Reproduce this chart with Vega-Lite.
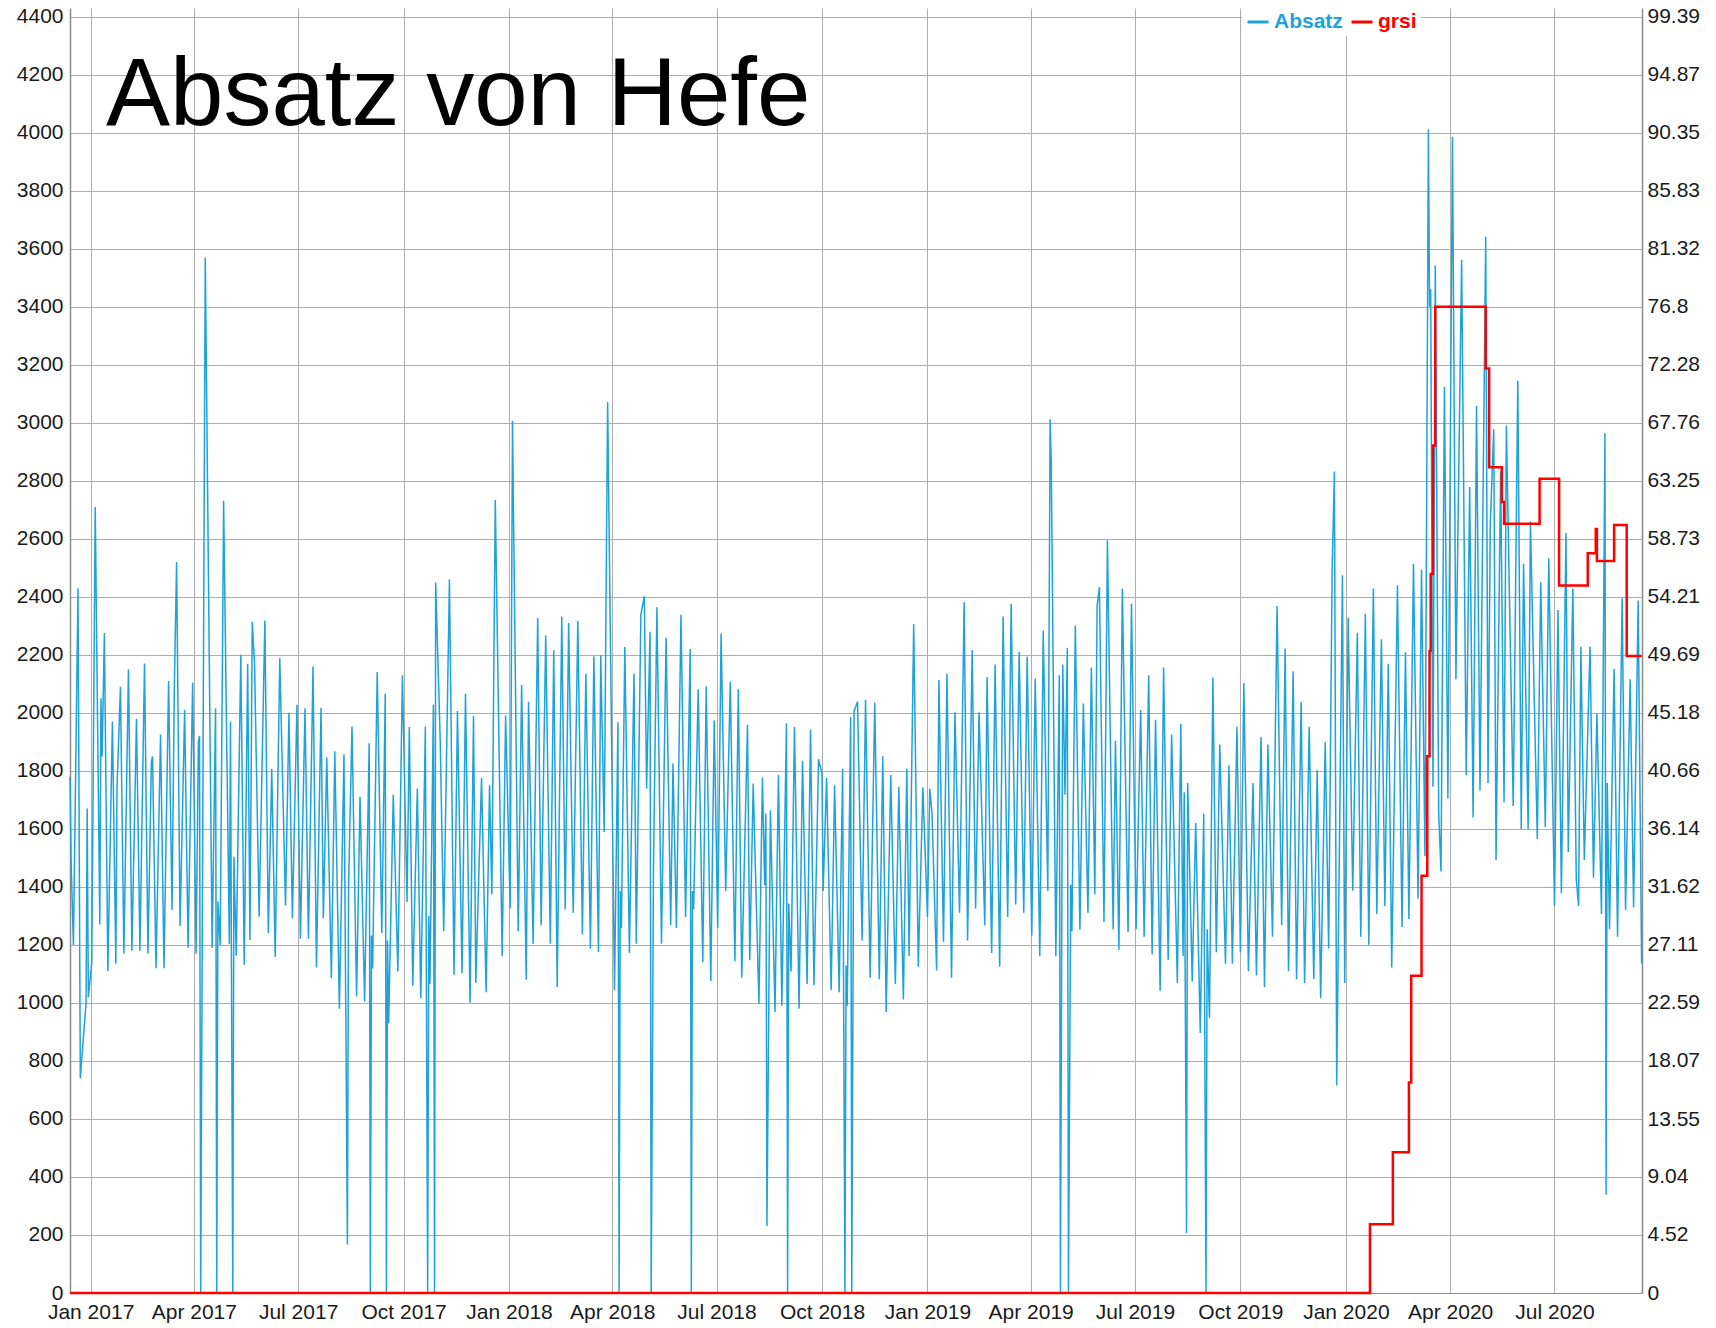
{
"$schema": "https://vega.github.io/schema/vega-lite/v6.json",
"width": 1572, "height": 1285,
"autosize": {"type": "none"},
"padding": {"left": 70, "top": 8, "right": 74, "bottom": 35},
"background": "white",
"title": {"text": "Absatz von Hefe", "font": "Liberation Sans", "fontSize": 96, "fontWeight": "normal", "color": "#000000", "anchor": "start", "frame": "group", "orient": "top", "offset": 0, "dx": 36, "dy": 215, "baseline": "alphabetic"},
"config": {"view": {"stroke": null}},
"datasets": {
"absatz": [
{"d":"2016-12-14","v":1780},{"d":"2016-12-15","v":1480},{"d":"2016-12-17","v":1200},{"d":"2016-12-21","v":2430},{"d":"2016-12-23","v":740},{"d":"2016-12-28","v":1000},{"d":"2016-12-29","v":1670},{"d":"2016-12-30","v":1020},
{"d":"2017-01-02","v":1140},{"d":"2017-01-05","v":2710},{"d":"2017-01-09","v":1270},{"d":"2017-01-10","v":2050},{"d":"2017-01-11","v":1850},{"d":"2017-01-13","v":2275},{"d":"2017-01-16","v":1110},{"d":"2017-01-20","v":1970},{"d":"2017-01-23","v":1135},{"d":"2017-01-24","v":1740},{"d":"2017-01-27","v":2090},{"d":"2017-01-30","v":1170},
{"d":"2017-02-03","v":2150},{"d":"2017-02-06","v":1180},{"d":"2017-02-10","v":1980},{"d":"2017-02-13","v":1180},{"d":"2017-02-17","v":2170},{"d":"2017-02-20","v":1170},{"d":"2017-02-23","v":1830},{"d":"2017-02-24","v":1850},{"d":"2017-02-27","v":1120},
{"d":"2017-03-03","v":1925},{"d":"2017-03-06","v":1120},{"d":"2017-03-10","v":2110},{"d":"2017-03-13","v":1320},{"d":"2017-03-15","v":2085},{"d":"2017-03-17","v":2520},{"d":"2017-03-20","v":1265},{"d":"2017-03-24","v":2010},{"d":"2017-03-27","v":1190},{"d":"2017-03-31","v":2105},
{"d":"2017-04-03","v":1170},{"d":"2017-04-05","v":1900},{"d":"2017-04-06","v":1920},{"d":"2017-04-07","v":0},{"d":"2017-04-11","v":3570},{"d":"2017-04-17","v":1190},{"d":"2017-04-20","v":2016},{"d":"2017-04-21","v":0},{"d":"2017-04-22","v":1350},{"d":"2017-04-24","v":1200},{"d":"2017-04-26","v":2190},{"d":"2017-04-27","v":2731},
{"d":"2017-05-02","v":1203},{"d":"2017-05-03","v":1969},{"d":"2017-05-05","v":0},{"d":"2017-05-06","v":1504},{"d":"2017-05-08","v":1163},{"d":"2017-05-12","v":2200},{"d":"2017-05-15","v":1132},{"d":"2017-05-18","v":2169},{"d":"2017-05-20","v":1217},{"d":"2017-05-22","v":2313},{"d":"2017-05-24","v":2169},{"d":"2017-05-28","v":1297},
{"d":"2017-06-02","v":2318},{"d":"2017-06-05","v":1240},{"d":"2017-06-08","v":1806},{"d":"2017-06-11","v":1158},{"d":"2017-06-15","v":2188},{"d":"2017-06-20","v":1335},{"d":"2017-06-23","v":2000},{"d":"2017-06-26","v":1292},{"d":"2017-06-30","v":2028},
{"d":"2017-07-03","v":1221},{"d":"2017-07-07","v":2016},{"d":"2017-07-10","v":1221},{"d":"2017-07-14","v":2160},{"d":"2017-07-17","v":1122},{"d":"2017-07-21","v":2018},{"d":"2017-07-23","v":1292},{"d":"2017-07-26","v":1846},{"d":"2017-07-30","v":1085},
{"d":"2017-08-02","v":1868},{"d":"2017-08-06","v":980},{"d":"2017-08-10","v":1857},{"d":"2017-08-13","v":167},{"d":"2017-08-14","v":1400},{"d":"2017-08-17","v":1953},{"d":"2017-08-21","v":1022},{"d":"2017-08-24","v":1711},{"d":"2017-08-28","v":1005},
{"d":"2017-09-01","v":1895},{"d":"2017-09-02","v":0},{"d":"2017-09-03","v":1232},{"d":"2017-09-04","v":1119},{"d":"2017-09-08","v":2141},{"d":"2017-09-12","v":1241},{"d":"2017-09-15","v":2066},{"d":"2017-09-16","v":0},{"d":"2017-09-17","v":1215},{"d":"2017-09-18","v":930},{"d":"2017-09-22","v":1718},{"d":"2017-09-26","v":1108},{"d":"2017-09-30","v":2130},
{"d":"2017-10-04","v":1348},{"d":"2017-10-06","v":1951},{"d":"2017-10-09","v":1059},{"d":"2017-10-13","v":1739},{"d":"2017-10-16","v":1016},{"d":"2017-10-20","v":1953},{"d":"2017-10-22","v":0},{"d":"2017-10-23","v":1300},{"d":"2017-10-24","v":1065},{"d":"2017-10-27","v":2028},{"d":"2017-10-28","v":0},{"d":"2017-10-29","v":2449},
{"d":"2017-11-02","v":1900},{"d":"2017-11-05","v":1247},{"d":"2017-11-10","v":2460},{"d":"2017-11-14","v":1097},{"d":"2017-11-17","v":2006},{"d":"2017-11-21","v":1102},{"d":"2017-11-24","v":2066},{"d":"2017-11-28","v":1001},
{"d":"2017-12-01","v":1989},{"d":"2017-12-03","v":1070},{"d":"2017-12-08","v":1775},{"d":"2017-12-12","v":1037},{"d":"2017-12-15","v":1750},{"d":"2017-12-17","v":1375},{"d":"2017-12-20","v":2734},{"d":"2017-12-26","v":1161},{"d":"2017-12-29","v":1991},
{"d":"2018-01-02","v":1326},{"d":"2018-01-04","v":3007},{"d":"2018-01-09","v":1247},{"d":"2018-01-12","v":2096},{"d":"2018-01-16","v":1080},{"d":"2018-01-18","v":2038},{"d":"2018-01-22","v":1204},{"d":"2018-01-26","v":2327},{"d":"2018-01-29","v":1268},
{"d":"2018-02-02","v":2267},{"d":"2018-02-06","v":1204},{"d":"2018-02-09","v":2216},{"d":"2018-02-12","v":1055},{"d":"2018-02-16","v":2332},{"d":"2018-02-19","v":1322},{"d":"2018-02-22","v":2310},{"d":"2018-02-26","v":1311},
{"d":"2018-03-02","v":2317},{"d":"2018-03-06","v":1236},{"d":"2018-03-09","v":2135},{"d":"2018-03-13","v":1187},{"d":"2018-03-16","v":2195},{"d":"2018-03-20","v":1176},{"d":"2018-03-22","v":2199},{"d":"2018-03-25","v":1589},{"d":"2018-03-28","v":3072},
{"d":"2018-04-03","v":1044},{"d":"2018-04-06","v":1968},{"d":"2018-04-07","v":0},{"d":"2018-04-08","v":1386},{"d":"2018-04-09","v":1258},{"d":"2018-04-12","v":2227},{"d":"2018-04-16","v":1172},{"d":"2018-04-20","v":2135},{"d":"2018-04-22","v":1204},{"d":"2018-04-26","v":2338},{"d":"2018-04-29","v":2402},
{"d":"2018-05-01","v":1739},{"d":"2018-05-04","v":2280},{"d":"2018-05-05","v":0},{"d":"2018-05-07","v":1472},{"d":"2018-05-10","v":2364},{"d":"2018-05-14","v":1204},{"d":"2018-05-18","v":2259},{"d":"2018-05-22","v":1268},{"d":"2018-05-24","v":1825},{"d":"2018-05-27","v":1258},{"d":"2018-05-31","v":2338},
{"d":"2018-06-04","v":1296},{"d":"2018-06-08","v":2220},{"d":"2018-06-09","v":0},{"d":"2018-06-10","v":1386},{"d":"2018-06-11","v":1322},{"d":"2018-06-15","v":2081},{"d":"2018-06-19","v":1140},{"d":"2018-06-22","v":2092},{"d":"2018-06-26","v":1076},{"d":"2018-06-29","v":1974},
{"d":"2018-07-02","v":1258},{"d":"2018-07-05","v":2274},{"d":"2018-07-09","v":1386},{"d":"2018-07-13","v":2107},{"d":"2018-07-17","v":1144},{"d":"2018-07-20","v":2081},{"d":"2018-07-23","v":1087},{"d":"2018-07-28","v":1959},{"d":"2018-07-30","v":1147},
{"d":"2018-08-02","v":1756},{"d":"2018-08-07","v":997},{"d":"2018-08-10","v":1777},{"d":"2018-08-12","v":1407},{"d":"2018-08-13","v":1653},{"d":"2018-08-14","v":231},{"d":"2018-08-17","v":1664},{"d":"2018-08-21","v":969},{"d":"2018-08-24","v":1786},{"d":"2018-08-27","v":990},{"d":"2018-08-31","v":1964},
{"d":"2018-09-01","v":0},{"d":"2018-09-02","v":1343},{"d":"2018-09-04","v":1108},{"d":"2018-09-07","v":1951},{"d":"2018-09-11","v":980},{"d":"2018-09-14","v":1835},{"d":"2018-09-18","v":1065},{"d":"2018-09-21","v":1942},{"d":"2018-09-24","v":1061},{"d":"2018-09-28","v":1840},
{"d":"2018-10-01","v":1792},{"d":"2018-10-02","v":1386},{"d":"2018-10-05","v":1775},{"d":"2018-10-09","v":1044},{"d":"2018-10-12","v":1750},{"d":"2018-10-16","v":1037},{"d":"2018-10-19","v":1807},{"d":"2018-10-21","v":0},{"d":"2018-10-22","v":1129},{"d":"2018-10-23","v":990},{"d":"2018-10-26","v":1985},{"d":"2018-10-27","v":0},{"d":"2018-10-29","v":2006},
{"d":"2018-11-01","v":2038},{"d":"2018-11-05","v":1215},{"d":"2018-11-08","v":2045},{"d":"2018-11-12","v":1087},{"d":"2018-11-16","v":2036},{"d":"2018-11-20","v":1082},{"d":"2018-11-23","v":1850},{"d":"2018-11-26","v":969},{"d":"2018-11-30","v":1786},
{"d":"2018-12-04","v":1065},{"d":"2018-12-07","v":1745},{"d":"2018-12-11","v":1012},{"d":"2018-12-14","v":1807},{"d":"2018-12-16","v":1161},{"d":"2018-12-20","v":2306},{"d":"2018-12-24","v":1125},{"d":"2018-12-28","v":1743},
{"d":"2019-01-01","v":1296},{"d":"2019-01-03","v":1739},{"d":"2019-01-05","v":1653},{"d":"2019-01-09","v":1112},{"d":"2019-01-11","v":2113},{"d":"2019-01-15","v":1211},{"d":"2019-01-18","v":2135},{"d":"2019-01-22","v":1087},{"d":"2019-01-25","v":2002},{"d":"2019-01-29","v":1311},
{"d":"2019-02-02","v":2381},{"d":"2019-02-05","v":1215},{"d":"2019-02-09","v":2216},{"d":"2019-02-12","v":1326},{"d":"2019-02-15","v":2002},{"d":"2019-02-20","v":1268},{"d":"2019-02-22","v":2124},{"d":"2019-02-26","v":1172},
{"d":"2019-03-01","v":2167},{"d":"2019-03-05","v":1125},{"d":"2019-03-08","v":2332},{"d":"2019-03-12","v":1296},{"d":"2019-03-15","v":2376},{"d":"2019-03-19","v":1339},{"d":"2019-03-22","v":2210},{"d":"2019-03-26","v":1311},{"d":"2019-03-29","v":2193},
{"d":"2019-04-02","v":1232},{"d":"2019-04-05","v":2118},{"d":"2019-04-09","v":1161},{"d":"2019-04-12","v":2284},{"d":"2019-04-16","v":1386},{"d":"2019-04-18","v":3012},{"d":"2019-04-19","v":2862},{"d":"2019-04-23","v":1161},{"d":"2019-04-26","v":2130},{"d":"2019-04-27","v":0},{"d":"2019-04-29","v":2167},
{"d":"2019-05-01","v":1718},{"d":"2019-05-03","v":2224},{"d":"2019-05-04","v":0},{"d":"2019-05-06","v":1407},{"d":"2019-05-07","v":1247},{"d":"2019-05-10","v":2301},{"d":"2019-05-14","v":1253},{"d":"2019-05-17","v":2032},{"d":"2019-05-21","v":1311},{"d":"2019-05-24","v":2156},{"d":"2019-05-27","v":1375},{"d":"2019-05-29","v":2370},{"d":"2019-05-31","v":2434},
{"d":"2019-06-04","v":1279},{"d":"2019-06-07","v":2595},{"d":"2019-06-12","v":1253},{"d":"2019-06-14","v":1904},{"d":"2019-06-17","v":1183},{"d":"2019-06-20","v":2428},{"d":"2019-06-25","v":1245},{"d":"2019-06-28","v":2376},
{"d":"2019-07-02","v":1254},{"d":"2019-07-06","v":2010},{"d":"2019-07-09","v":1228},{"d":"2019-07-13","v":2130},{"d":"2019-07-16","v":1167},{"d":"2019-07-19","v":1976},{"d":"2019-07-23","v":1042},{"d":"2019-07-26","v":2156},{"d":"2019-07-30","v":1148},
{"d":"2019-08-02","v":1925},{"d":"2019-08-07","v":1069},{"d":"2019-08-10","v":1962},{"d":"2019-08-12","v":1162},{"d":"2019-08-13","v":1726},{"d":"2019-08-15","v":207},{"d":"2019-08-16","v":1758},{"d":"2019-08-20","v":1074},{"d":"2019-08-23","v":1620},{"d":"2019-08-27","v":896},{"d":"2019-08-30","v":1652},
{"d":"2019-09-01","v":0},{"d":"2019-09-02","v":1254},{"d":"2019-09-04","v":949},{"d":"2019-09-07","v":2122},{"d":"2019-09-10","v":1175},{"d":"2019-09-13","v":1891},{"d":"2019-09-18","v":1135},{"d":"2019-09-21","v":1819},{"d":"2019-09-24","v":1135},{"d":"2019-09-28","v":1952},
{"d":"2019-10-01","v":1175},{"d":"2019-10-04","v":2103},{"d":"2019-10-08","v":1109},{"d":"2019-10-12","v":1758},{"d":"2019-10-15","v":1095},{"d":"2019-10-19","v":1917},{"d":"2019-10-22","v":1055},{"d":"2019-10-25","v":1891},{"d":"2019-10-29","v":1228},
{"d":"2019-11-02","v":2368},{"d":"2019-11-06","v":1268},{"d":"2019-11-09","v":2222},{"d":"2019-11-12","v":1109},{"d":"2019-11-16","v":2143},{"d":"2019-11-19","v":1082},{"d":"2019-11-23","v":2037},{"d":"2019-11-26","v":1069},{"d":"2019-11-30","v":1952},
{"d":"2019-12-04","v":1082},{"d":"2019-12-07","v":1803},{"d":"2019-12-10","v":1016},{"d":"2019-12-14","v":1899},{"d":"2019-12-17","v":1188},{"d":"2019-12-20","v":2488},{"d":"2019-12-22","v":2832},{"d":"2019-12-24","v":716},{"d":"2019-12-27","v":1758},{"d":"2019-12-29","v":2474},{"d":"2019-12-31","v":1069},
{"d":"2020-01-03","v":2328},{"d":"2020-01-07","v":1387},{"d":"2020-01-11","v":2275},{"d":"2020-01-14","v":1228},{"d":"2020-01-18","v":2342},{"d":"2020-01-21","v":1201},{"d":"2020-01-25","v":2429},{"d":"2020-01-28","v":1307},
{"d":"2020-02-01","v":2254},{"d":"2020-02-04","v":1334},{"d":"2020-02-07","v":2169},{"d":"2020-02-10","v":1122},{"d":"2020-02-15","v":2440},{"d":"2020-02-19","v":1262},{"d":"2020-02-22","v":2209},{"d":"2020-02-25","v":1289},{"d":"2020-02-29","v":2514},
{"d":"2020-03-04","v":1360},{"d":"2020-03-07","v":2493},{"d":"2020-03-10","v":1506},{"d":"2020-03-13","v":4012},{"d":"2020-03-14","v":3400},{"d":"2020-03-15","v":3460},{"d":"2020-03-17","v":1745},{"d":"2020-03-19","v":3543},{"d":"2020-03-22","v":1652},{"d":"2020-03-24","v":1453},{"d":"2020-03-27","v":3124},{"d":"2020-03-30","v":1705},
{"d":"2020-04-03","v":3986},{"d":"2020-04-06","v":2116},{"d":"2020-04-11","v":3562},{"d":"2020-04-15","v":1785},{"d":"2020-04-18","v":2779},{"d":"2020-04-21","v":1639},{"d":"2020-04-24","v":3058},{"d":"2020-04-27","v":1732},
{"d":"2020-05-02","v":3641},{"d":"2020-05-04","v":1758},{"d":"2020-05-06","v":2650},{"d":"2020-05-09","v":2978},{"d":"2020-05-11","v":1493},{"d":"2020-05-15","v":2832},{"d":"2020-05-18","v":1692},{"d":"2020-05-20","v":2991},{"d":"2020-05-26","v":1679},{"d":"2020-05-30","v":3145},
{"d":"2020-06-02","v":1599},{"d":"2020-06-04","v":2514},{"d":"2020-06-08","v":1599},{"d":"2020-06-10","v":2660},{"d":"2020-06-16","v":1565},{"d":"2020-06-19","v":2450},{"d":"2020-06-23","v":1607},{"d":"2020-06-26","v":2533},
{"d":"2020-07-01","v":1334},{"d":"2020-07-04","v":2355},{"d":"2020-07-07","v":1379},{"d":"2020-07-11","v":2620},{"d":"2020-07-13","v":1520},{"d":"2020-07-17","v":2429},{"d":"2020-07-20","v":1427},{"d":"2020-07-22","v":1334},{"d":"2020-07-24","v":2228},{"d":"2020-07-27","v":1493},
{"d":"2020-08-01","v":2228},{"d":"2020-08-04","v":1432},{"d":"2020-08-07","v":1997},{"d":"2020-08-11","v":1307},{"d":"2020-08-14","v":2965},{"d":"2020-08-15","v":339},{"d":"2020-08-16","v":1758},{"d":"2020-08-18","v":1254},{"d":"2020-08-22","v":2151},{"d":"2020-08-25","v":1228},{"d":"2020-08-29","v":2395},
{"d":"2020-09-01","v":1320},{"d":"2020-09-05","v":2116},{"d":"2020-09-08","v":1329},{"d":"2020-09-12","v":2387},{"d":"2020-09-15","v":1135}
],
"grsi": [
{"d":"2016-12-14","g":0},{"d":"2020-01-22","g":5.36},{"d":"2020-02-11","g":10.96},{"d":"2020-02-25","g":16.4},{"d":"2020-02-27","g":24.7},{"d":"2020-03-07","g":32.5},{"d":"2020-03-12","g":41.8},{"d":"2020-03-14","g":50},{"d":"2020-03-15","g":56},{"d":"2020-03-17","g":66},{"d":"2020-03-19","g":76.8},{"d":"2020-05-02","g":72},{"d":"2020-05-05","g":64.3},{"d":"2020-05-16","g":61.6},{"d":"2020-05-18","g":59.9},{"d":"2020-06-18","g":63.4},{"d":"2020-07-05","g":55.1},{"d":"2020-07-30","g":57.6},{"d":"2020-08-06","g":59.5},{"d":"2020-08-07","g":57},{"d":"2020-08-22","g":59.8},{"d":"2020-09-02","g":49.6},{"d":"2020-09-15","g":49.6}
]
},
"layer": [
{
"data": {"name": "absatz"},
"mark": {"type": "line", "strokeWidth": 1.5, "interpolate": "linear"},
"encoding": {
"x": {"field": "d", "type": "temporal",
"scale": {"domain": [{"year": 2016, "month": 12, "date": 14}, {"year": 2020, "month": 9, "date": 15, "hours": 8}]},
"axis": {"title": null, "format": "%b %Y", "tickCount": {"interval": "month", "step": 3}, "grid": true, "gridColor": "#aeaeae", "gridWidth": 1, "ticks": false, "labelPadding": 8, "labelFont": "Liberation Sans", "labelFontSize": 21, "labelColor": "#1a1a1a", "domainColor": "#8c8c8c", "labelOverlap": false, "labelFlush": false}},
"y": {"field": "v", "type": "quantitative",
"scale": {"domain": [0, 4430], "nice": false, "zero": true},
"axis": {"title": null, "format": "d", "values": [0,200,400,600,800,1000,1200,1400,1600,1800,2000,2200,2400,2600,2800,3000,3200,3400,3600,3800,4000,4200,4400], "grid": true, "gridColor": "#aeaeae", "gridWidth": 1, "ticks": false, "labelPadding": 7, "labelFont": "Liberation Sans", "labelFontSize": 21, "labelColor": "#1a1a1a", "domainColor": "#8c8c8c", "domainWidth": 1.5}},
"color": {"datum": "Absatz", "type": "nominal",
"scale": {"domain": ["Absatz", "grsi"], "range": ["#1fa2d9", "#ff0000"]},
"legend": {"title": null, "orient": "none", "legendX": 1172, "legendY": -2, "direction": "horizontal", "fillColor": "white", "padding": 4, "symbolType": "stroke", "symbolSize": 441, "symbolStrokeWidth": 3, "labelFont": "Liberation Sans", "labelFontWeight": "bold", "labelFontSize": 21, "labelOffset": 4, "columnPadding": 2,
"encode": {"labels": {"update": {"fill": {"scale": "color", "field": "value"}}}}}}
}
},
{
"data": {"name": "grsi"},
"mark": {"type": "line", "strokeWidth": 2.5, "interpolate": "step-after"},
"encoding": {
"x": {"field": "d", "type": "temporal"},
"y": {"field": "g", "type": "quantitative",
"scale": {"domain": [0, 100.0677], "nice": false},
"axis": {"title": null, "orient": "right", "values": [0,4.52,9.04,13.55,18.07,22.59,27.11,31.62,36.14,40.66,45.18,49.69,54.21,58.73,63.25,67.76,72.28,76.8,81.32,85.83,90.35,94.87,99.39], "format": ".2~f", "grid": false, "ticks": false, "labelPadding": 5, "labelFont": "Liberation Sans", "labelFontSize": 21, "labelColor": "#1a1a1a", "domainColor": "#8c8c8c", "domainWidth": 1.5}},
"color": {"datum": "grsi", "type": "nominal"}
}
}
],
"resolve": {"scale": {"y": "independent"}}
}
